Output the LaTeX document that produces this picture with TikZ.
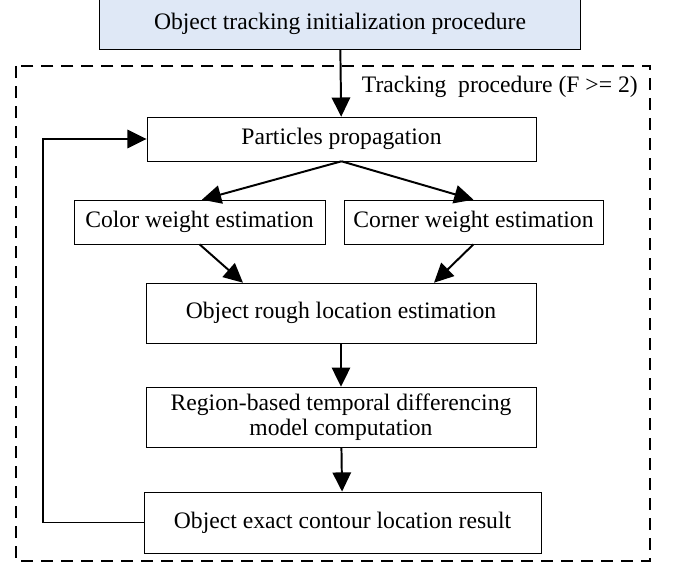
\documentclass[tikz,border=0pt]{standalone}
\usepackage{fontspec}
\setmainfont{Liberation Serif}
\usepackage{tikz}
\usetikzlibrary{arrows.meta, calc, positioning}
\definecolor{initblue}{RGB}{223, 232, 246}
\tikzset{box/.style={draw, thin, rectangle, inner sep=0pt, align=center, font=\fontsize{16.8}{18}\selectfont}}
\tikzset{initbox/.style={box, fill=initblue}}
\tikzset{arr/.style={-{Triangle[length=0.48cm, width=0.46cm]}, line width=1.4pt}}
\tikzset{frame/.style={line width=1.4pt, dash pattern=on 0.3cm off 0.2cm}}

\begin{document}
\begin{tikzpicture}[x=0.025cm, y=-0.025cm]
        \useasboundingbox (0, 0) rectangle (679, 565);

        \node [initbox, minimum width=12.03cm, minimum height=1.28cm] (Init) at (340, 24) {Object tracking initialization procedure};

        \draw [frame] (16, 66) rectangle (650, 561);
        \node [anchor=east, font=\fontsize{16.8}{18}\selectfont, inner sep=0pt] (Lbl) at (638, 87) {Tracking\enspace procedure (F >= 2)};

        \node [box, minimum width=9.73cm,  minimum height=1.1cm]  (Prop)   at (341.5, 139) {Particles propagation};
        \node [box, minimum width=6.28cm,  minimum height=1.1cm]  (Color)  at (199.5, 222) {Color weight estimation};
        \node [box, minimum width=6.48cm,  minimum height=1.1cm]  (Corner) at (473.5, 222) {Corner weight estimation};
        \node [box, minimum width=9.75cm,  minimum height=1.5cm]  (Rough)  at (341, 313) {Object rough location estimation};
        \node [box, minimum width=9.75cm,  minimum height=1.5cm]  (Diff)   at (341, 417) {Region-based temporal differencing\\model computation};
        \node [box, minimum width=9.93cm,  minimum height=1.53cm] (Exact)  at (342.5, 522.5) {Object exact contour location result};

        \coordinate (Back) at (43, 522.5);

        \draw [arr] (Init) -- (Prop);
        \draw [arr] (Prop.south) -- ([xshift=0.06cm]Color.north);
        \draw [arr] (Prop.south) -- (Corner.north);
        \draw [arr] (Color.south) -- ([xshift=-2.45cm]Rough.north);
        \draw [arr] (Corner.south) -- ([xshift=2.325cm]Rough.north);
        \draw [arr] (Rough) -- (Diff);
        \draw [arr] (Diff) -- (Exact);
        \draw [arr] (Exact.west) -- (Back) |- (Prop.west);
\end{tikzpicture}
\end{document}
